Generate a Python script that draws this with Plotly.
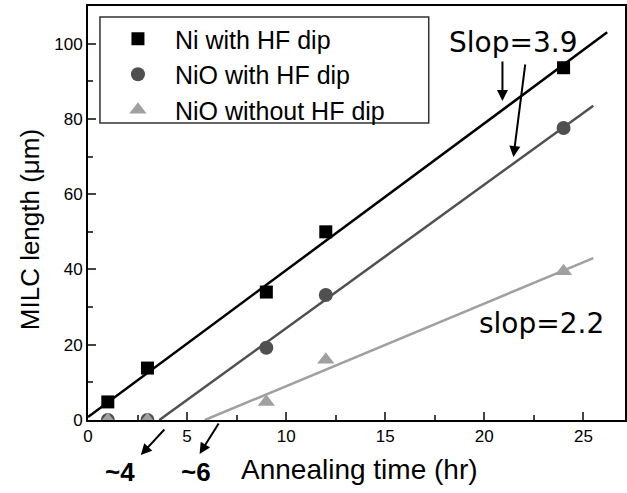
import plotly.graph_objects as go

time_hr = [1, 3, 9, 12, 24]
ni_hf = [4.8, 13.8, 34, 50, 93.6]
nio_hf = [0, 0, 19.2, 33.2, 77.6]
nio_nohf = [0, 0, 4.8, 16, 39.5]

fit_ni_x = [0, 26.2]
fit_ni_y = [0.8, 103]
fit_niohf_x = [3.6, 25.5]
fit_niohf_y = [0, 83.5]
fit_nionohf_x = [5.9, 25.5]
fit_nionohf_y = [0, 43]

c_ni = "#000000"
c_niohf = "#505050"
c_nionohf = "#a0a0a0"

fig = go.Figure()
fig.add_trace(go.Scatter(x=fit_ni_x, y=fit_ni_y, mode="lines", line=dict(color=c_ni, width=2.5), showlegend=False))
fig.add_trace(go.Scatter(x=fit_niohf_x, y=fit_niohf_y, mode="lines", line=dict(color=c_niohf, width=2.5), showlegend=False))
fig.add_trace(go.Scatter(x=fit_nionohf_x, y=fit_nionohf_y, mode="lines", line=dict(color=c_nionohf, width=2.5), showlegend=False))
fig.add_trace(go.Scatter(x=time_hr, y=ni_hf, mode="markers", name="Ni with HF dip",
                         marker=dict(symbol="square", size=13, color=c_ni)))
fig.add_trace(go.Scatter(x=time_hr, y=nio_hf, mode="markers", name="NiO with HF dip",
                         marker=dict(symbol="circle", size=14, color=c_niohf)))
fig.add_trace(go.Scatter(x=time_hr, y=nio_nohf, mode="markers", name="NiO without HF dip",
                         marker=dict(symbol="triangle-up", size=15, color=c_nionohf)))

W, H = 627, 493
L, T, B = 88, 6, 420
pw, ph = W - L, B - T
def px(x, y):
    return (x - L) / pw, (B - y) / ph

font = "Liberation Sans, Arial, sans-serif"
lx, ly = px(101, 16)
fig.update_layout(
    width=W, height=H,
    margin=dict(l=L, r=0, t=T, b=H - B),
    plot_bgcolor="white", paper_bgcolor="white",
    font=dict(family=font, color="black"),
    legend=dict(x=lx, y=ly, xanchor="left", yanchor="top",
                borderwidth=0, bgcolor="rgba(0,0,0,0)",
                font=dict(size=25, family=font), itemwidth=64, tracegroupgap=0),
    xaxis=dict(range=[0, 27.1], showgrid=False, zeroline=False, showline=True, linecolor="black",
               linewidth=2, mirror=True, ticks="inside", ticklen=8, tickwidth=1.5, dtick=5,
               tickfont=dict(size=17), minor=dict(dtick=2.5, ticks="inside", ticklen=5, tickwidth=1.5)),
    yaxis=dict(range=[0, 110], showgrid=False, zeroline=False, showline=True, linecolor="black",
               linewidth=2, mirror=True, ticks="inside", ticklen=8, tickwidth=1.5, dtick=20,
               tickfont=dict(size=17), minor=dict(dtick=10, ticks="inside", ticklen=5, tickwidth=1.5)),
)

# legend frame
x0p, y0p = px(100, 123)
x1p, y1p = px(430, 17)
fig.add_shape(type="rect", xref="paper", yref="paper", x0=x0p, y0=y0p, x1=x1p, y1=y1p,
              line=dict(color="#333333", width=1.5), fillcolor="rgba(0,0,0,0)", layer="above")

def arrow_px(x0, y0, x1, y1):
    xp, yp = px(x1, y1)
    fig.add_annotation(x=xp, y=yp, ax=x0 - x1, ay=y0 - y1, xref="paper", yref="paper",
                       showarrow=True, arrowhead=2, arrowsize=1.1, arrowwidth=2, arrowcolor="black", text="")

def text_px(x, y, s, size, bold=False, fam=font, angle=0):
    xp, yp = px(x, y)
    fig.add_annotation(x=xp, y=yp, xref="paper", yref="paper", text=("<b>%s</b>" % s) if bold else s,
                       showarrow=False, font=dict(size=size, family=fam, color="black"),
                       xanchor="center", yanchor="middle", textangle=angle)

text_px(361, 469, "Annealing time (hr)", 28)
text_px(30, 230, "MILC length (μm)", 26, angle=-90)
text_px(515, 42, "Slop=3.9", 28, fam="DejaVu Sans")
text_px(543, 323, "slop=2.2", 28, fam="DejaVu Sans")
text_px(120, 472, "~4", 26, bold=True)
text_px(196, 472, "~6", 26, bold=True)
arrow_px(504, 60, 504, 101)
arrow_px(527, 63, 515, 157)
arrow_px(166, 428, 141, 455)
arrow_px(220, 422, 200, 454)

fig.write_html("out.html")
